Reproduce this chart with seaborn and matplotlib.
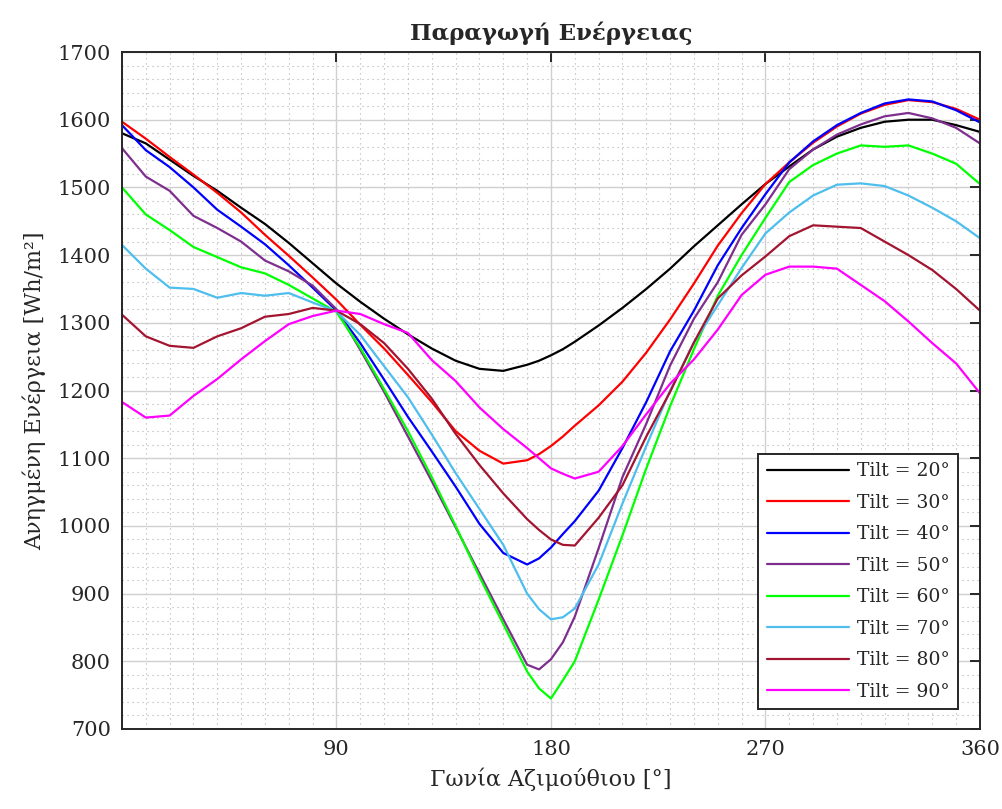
import numpy as np
import pandas as pd
import matplotlib
matplotlib.use("Agg")
import matplotlib.pyplot as plt
from matplotlib.ticker import MultipleLocator, FixedLocator
import seaborn as sns

# ---- data ----
azimuth = [0, 10, 20, 30, 40, 50, 60, 70, 80, 90, 100, 110, 120, 130, 140, 150, 160, 170, 175,
           180, 185, 190, 200, 210, 220, 230, 240, 250, 260, 270, 280, 290, 300, 310, 320, 330,
           340, 350, 360]

tilt20 = [1580, 1565, 1541, 1517, 1495, 1470, 1446, 1418, 1388, 1358, 1331, 1306, 1283, 1262,
          1244, 1232, 1229, 1238, 1244, 1252, 1261, 1272, 1296, 1322, 1350, 1380, 1413, 1444,
          1475, 1505, 1531, 1556, 1575, 1588, 1597, 1600, 1600, 1592, 1582]
tilt30 = [1597, 1572, 1545, 1519, 1492, 1463, 1430, 1399, 1367, 1334, 1297, 1262, 1223, 1183,
          1140, 1111, 1092, 1097, 1106, 1118, 1132, 1148, 1178, 1213, 1256, 1305, 1358, 1414,
          1462, 1505, 1537, 1566, 1590, 1609, 1622, 1629, 1626, 1616, 1600]
tilt40 = [1592, 1555, 1530, 1500, 1467, 1442, 1416, 1385, 1352, 1318, 1270, 1216, 1161, 1110,
          1058, 1003, 960, 943, 952, 968, 988, 1007, 1052, 1115, 1183, 1258, 1318, 1385, 1440,
          1490, 1537, 1568, 1592, 1610, 1624, 1630, 1627, 1614, 1596]
tilt50 = [1558, 1516, 1495, 1458, 1440, 1420, 1392, 1376, 1355, 1320, 1260, 1198, 1132, 1066,
          998, 930, 862, 795, 788, 803, 828, 866, 967, 1072, 1151, 1237, 1306, 1360, 1430,
          1475, 1527, 1556, 1578, 1593, 1605, 1610, 1602, 1588, 1565]
tilt60 = [1500, 1460, 1437, 1412, 1397, 1382, 1373, 1356, 1336, 1316, 1263, 1202, 1140, 1072,
          1000, 925, 855, 785, 760, 745, 772, 800, 891, 986, 1085, 1177, 1261, 1340, 1400,
          1455, 1508, 1533, 1550, 1562, 1560, 1562, 1550, 1535, 1505]
tilt70 = [1415, 1380, 1352, 1350, 1337, 1344, 1340, 1344, 1330, 1317, 1282, 1236, 1190, 1135,
          1078, 1025, 972, 900, 877, 862, 865, 878, 943, 1033, 1118, 1200, 1271, 1326, 1381,
          1432, 1463, 1488, 1504, 1506, 1502, 1488, 1470, 1450, 1425]
tilt80 = [1312, 1280, 1266, 1263, 1280, 1292, 1309, 1313, 1322, 1318, 1298, 1270, 1232, 1188,
          1136, 1090, 1048, 1010, 994, 980, 972, 971, 1012, 1060, 1132, 1198, 1271, 1336, 1370,
          1398, 1428, 1444, 1442, 1440, 1420, 1400, 1378, 1350, 1318]
tilt90 = [1183, 1160, 1163, 1192, 1217, 1246, 1273, 1298, 1310, 1318, 1313, 1298, 1285, 1245,
          1214, 1175, 1143, 1115, 1100, 1085, 1077, 1070, 1080, 1118, 1165, 1210, 1246, 1290,
          1341, 1371, 1383, 1383, 1380, 1356, 1332, 1302, 1270, 1240, 1196]

labels = ["Tilt = 20°", "Tilt = 30°", "Tilt = 40°", "Tilt = 50°",
          "Tilt = 60°", "Tilt = 70°", "Tilt = 80°", "Tilt = 90°"]
series = [tilt20, tilt30, tilt40, tilt50, tilt60, tilt70, tilt80, tilt90]
colors = ["#000000", "#ff0000", "#0000ff", "#7e2f8e",
          "#00ff00", "#4dbeee", "#a2142f", "#ff00ff"]

x_ticks = [90, 180, 270, 360]
y_ticks = [700, 800, 900, 1000, 1100, 1200, 1300, 1400, 1500, 1600, 1700]

title = "Παραγωγή Ενέργειας"
xlabel = "Γωνία Αζιμούθιου [°]"
ylabel = "Ανηγμένη Ενέργεια [Wh/m²]"

# ---- long-form table ----
rows = []
for lab, vals in zip(labels, series):
    for a, v in zip(azimuth, vals):
        rows.append((a, v, lab))
df = pd.DataFrame(rows, columns=["azimuth", "energy", "tilt"])

# ---- styling ----
sns.set_style("white")
plt.rcParams["font.family"] = ["DejaVu Serif"]
plt.rcParams["axes.unicode_minus"] = False

fig = plt.figure(figsize=(10.03, 8.09), dpi=100)
ax = fig.add_axes([0.1216, 0.0989, 0.8554, 0.8368])

sns.lineplot(data=df, x="azimuth", y="energy", hue="tilt", hue_order=labels,
             palette=colors, linewidth=1.6, ax=ax, legend=True, sort=False)

ax.set_xlim(0, 360)
ax.set_ylim(700, 1700)
ax.xaxis.set_major_locator(FixedLocator(x_ticks))
ax.yaxis.set_major_locator(FixedLocator(y_ticks))
ax.xaxis.set_minor_locator(MultipleLocator(10))
ax.yaxis.set_minor_locator(MultipleLocator(20))

ax.grid(which="major", color="#d0d0d0", linewidth=1.0, linestyle="-")
ax.grid(which="minor", color="#b0b0b0", linewidth=0.8, linestyle=(0, (1, 3.5)))
ax.set_axisbelow(True)

ax.tick_params(which="major", direction="in", length=7, width=1.4,
               top=True, right=True, labelsize=15, colors="#262626", pad=8)
ax.tick_params(which="minor", length=0)
for sp in ax.spines.values():
    sp.set_visible(True)
    sp.set_color("#262626")
    sp.set_linewidth(1.4)

ax.set_title(title, fontsize=16.5, fontweight="bold", pad=9)
ax.set_xlabel(xlabel, fontsize=16, color="#262626", labelpad=6)
ax.set_ylabel(ylabel, fontsize=16, color="#262626", labelpad=8)

handles, labs = ax.get_legend_handles_labels()
leg = ax.legend(handles, labs, loc="lower right",
                bbox_to_anchor=(0.9744, 0.0295), borderaxespad=0,
                fontsize=13.5, handlelength=4.4, handletextpad=0.4,
                labelspacing=0.72, frameon=True, fancybox=False,
                edgecolor="#262626", framealpha=1.0, borderpad=0.45)
leg.get_frame().set_linewidth(1.4)
for line in leg.get_lines():
    line.set_linewidth(1.6)

fig.savefig("out.png", dpi=100)
